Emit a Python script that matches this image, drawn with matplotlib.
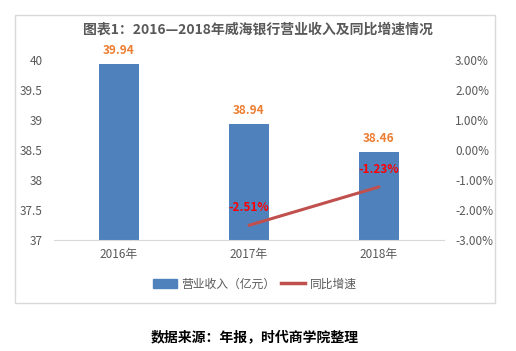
import matplotlib
matplotlib.use("Agg")
import matplotlib.pyplot as plt
from matplotlib.patches import Rectangle
from matplotlib.lines import Line2D

plt.rcParams['font.family'] = ['Noto Sans CJK SC', 'DejaVu Sans']

years = ["2016年", "2017年", "2018年"]
revenue = [39.94, 38.94, 38.46]
growth_years = ["2017年", "2018年"]
growth = [-2.51, -1.23]
title = "图表1：2016—2018年威海银行营业收入及同比增速情况"
source = "数据来源：年报，时代商学院整理"

W, H = 516, 351
fig = plt.figure(figsize=(W / 100, H / 100), dpi=100)

# outer frame
fig.patches.append(Rectangle((15 / W, 1 - 303 / H), (495 - 15) / W, (303 - 15) / H,
                             transform=fig.transFigure, fill=False,
                             edgecolor="#D9D9D9", linewidth=1))

ax = fig.add_axes([54 / W, 1 - 240 / H, (444 - 54) / W, 180 / H])
x = list(range(len(years)))
ax.bar(x, revenue, width=0.315, color="#4F81BD", zorder=2)
ax.set_ylim(37, 40)
ax.set_xlim(-0.5, 2.5)
ax.set_yticks([37, 37.5, 38, 38.5, 39, 39.5, 40])
ax.set_yticklabels(["37", "37.5", "38", "38.5", "39", "39.5", "40"])
ax.set_xticks(x)
ax.set_xticklabels(years)
for s in ["top", "right", "left"]:
    ax.spines[s].set_visible(False)
ax.spines["bottom"].set_color("#D9D9D9")
ax.tick_params(axis="y", length=0, labelsize=8.5, labelcolor="#595959", pad=8)
ax.tick_params(axis="x", length=0, labelsize=8.5, labelcolor="#595959", pad=6)
for xi, v in zip(x, revenue):
    ax.annotate(f"{v:.2f}", (xi, v), xytext=(0, 5), textcoords="offset points",
                ha="center", va="bottom", color="#ED7D31", fontsize=8.5,
                fontweight="bold")

ax2 = ax.twinx()
gx = [years.index(g) for g in growth_years]
ax2.plot(gx, growth, color="#C0504D", linewidth=2.2, solid_capstyle="round", zorder=3)
ax2.set_ylim(-3, 3)
ax2.set_yticks([-3, -2, -1, 0, 1, 2, 3])
ax2.set_yticklabels([f"{t:.2f}%" for t in [-3, -2, -1, 0, 1, 2, 3]])
for s in ["top", "right", "left", "bottom"]:
    ax2.spines[s].set_visible(False)
ax2.tick_params(axis="y", length=0, labelsize=8.5, labelcolor="#595959", pad=8)
for xi, v in zip(gx, growth):
    ax2.annotate(f"{v:.2f}%", (xi, v), xytext=(0, 8), textcoords="offset points",
                 ha="center", va="bottom", color="#FF0000", fontsize=8.5,
                 fontweight="bold")

fig.text(0.5, 1 - 30 / H, title, ha="center", va="center", fontsize=10,
         fontweight="bold", color="#595959")

handles = [Rectangle((0, 0), 1, 1, color="#4F81BD"),
           Line2D([0], [0], color="#C0504D", linewidth=2.5)]
fig.legend(handles, ["营业收入（亿元）", "同比增速"], loc="center",
           bbox_to_anchor=(255 / W, 1 - 284 / H), ncol=2, frameon=False,
           fontsize=8.5, labelcolor="#595959", handlelength=2.0,
           handletextpad=0.4, columnspacing=0.5)

fig.text(255 / W, 1 - 337 / H, source, ha="center", va="center", fontsize=10,
         fontweight="bold", color="#000000")

fig.savefig("out.png", dpi=100)
